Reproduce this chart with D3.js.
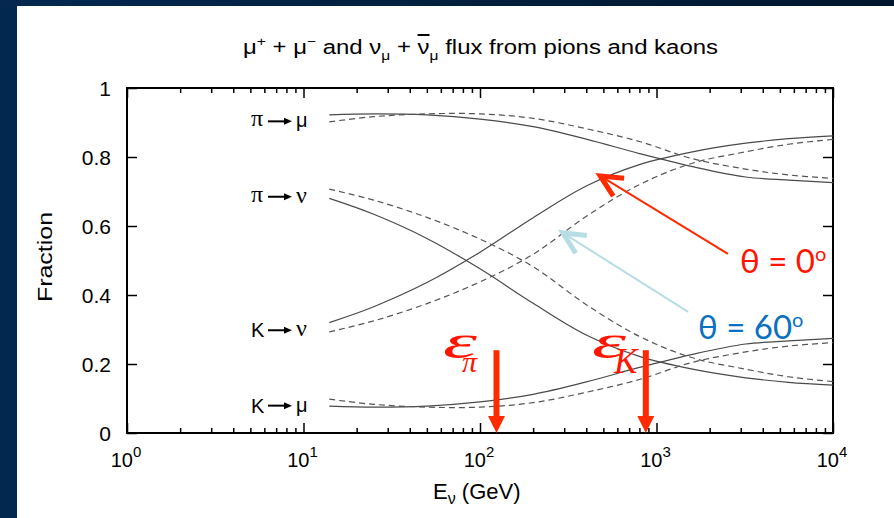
<!DOCTYPE html>
<html>
<head>
<meta charset="utf-8">
<script src="https://cdn.jsdelivr.net/npm/d3@7"></script>
<style>
    body { margin: 0; background: #fff; }
    svg { display: block; }
</style>
</head>
<body>
<div id="chart"></div>
<script>
(() => {
    const energies = [14, 25, 50, 100, 200, 400, 800, 1600, 3200, 5600, 10000];

    // theta = 0 (solid)
    const piMu0 = [0.922, 0.925, 0.922, 0.910, 0.888, 0.852, 0.810, 0.772, 0.742, 0.733, 0.726];
    const kMu0 = [0.078, 0.075, 0.078, 0.090, 0.112, 0.148, 0.190, 0.228, 0.258, 0.267, 0.274];
    const piNu0 = [0.680, 0.634, 0.564, 0.476, 0.376, 0.284, 0.222, 0.185, 0.160, 0.147, 0.139];
    const kNu0 = [0.320, 0.366, 0.436, 0.524, 0.624, 0.716, 0.778, 0.815, 0.840, 0.853, 0.861];

    // theta = 60 (dashed)
    const piMu60 = [0.902, 0.917, 0.925, 0.925, 0.912, 0.882, 0.845, 0.795, 0.765, 0.748, 0.738];
    const kMu60 = [0.098, 0.083, 0.075, 0.075, 0.088, 0.118, 0.155, 0.205, 0.235, 0.252, 0.262];
    const piNu60 = [0.707, 0.675, 0.625, 0.562, 0.482, 0.372, 0.280, 0.218, 0.185, 0.163, 0.149];
    const kNu60 = [0.293, 0.325, 0.375, 0.438, 0.518, 0.628, 0.720, 0.782, 0.815, 0.837, 0.851];

    const xTickValues = [1, 10, 100, 1000, 10000];
    const xTickExps = ['0', '1', '2', '3', '4'];
    const yTickValues = [0, 0.2, 0.4, 0.6, 0.8, 1];
    const yTickLabels = ['0', '0.2', '0.4', '0.6', '0.8', '1'];

    // decay labels drawn at the start of each pair of curves
    const decayParents = ['π', 'π', 'K', 'K'];
    const decayDaughters = ['μ', 'ν', 'ν', 'μ'];
    const decayCurves = [[piMu0, piMu60], [piNu0, piNu60], [kNu0, kNu60], [kMu0, kMu60]];

    // critical energies (GeV)
    const epsNames = ['π', 'K'];
    const epsEnergies = [124, 870];

    const width = 894;
    const height = 518;

    const svg = d3.select('#chart')
        .append('svg')
        .attr('width', width)
        .attr('height', height);

    // slide background
    const grad = svg.append('defs').append('linearGradient')
        .attr('id', 'band').attr('x1', 0).attr('x2', 1);
    grad.append('stop').attr('offset', 0).attr('stop-color', '#04284f');
    grad.append('stop').attr('offset', 1).attr('stop-color', '#00162c');
    svg.append('rect').attr('width', width).attr('height', height).attr('fill', '#03284f');
    svg.append('rect').attr('width', width).attr('height', 6).attr('fill', 'url(#band)');
    svg.append('rect').attr('x', 17).attr('y', 6).attr('width', width - 17).attr('height', height - 6).attr('fill', '#fff');

    const xScale = d3.scaleLog().domain([1, 1e4]).range([127, 833]);
    const yScale = d3.scaleLinear().domain([0, 1]).range([433, 88]);

    const sans = 'Liberation Sans, Arial, sans-serif';
    const serif = 'Liberation Serif, Times New Roman, serif';

    const minorTicks = xScale.ticks().filter(v => !xTickValues.includes(v));

    function styleAxis(g) {
        g.select('.domain').remove();
        g.selectAll('.tick line').attr('stroke', '#000').attr('stroke-width', 1.5);
        g.selectAll('.tick text').remove();
    }

    // inward ticks on all four sides
    svg.append('g').attr('transform', 'translate(0,433)')
        .call(d3.axisBottom(xScale).tickValues(minorTicks).tickSize(-5)).call(styleAxis);
    svg.append('g').attr('transform', 'translate(0,433)')
        .call(d3.axisBottom(xScale).tickValues(xTickValues).tickSize(-10)).call(styleAxis);
    svg.append('g').attr('transform', 'translate(0,88)')
        .call(d3.axisTop(xScale).tickValues(minorTicks).tickSize(-5)).call(styleAxis);
    svg.append('g').attr('transform', 'translate(0,88)')
        .call(d3.axisTop(xScale).tickValues(xTickValues).tickSize(-10)).call(styleAxis);
    svg.append('g').attr('transform', 'translate(127,0)')
        .call(d3.axisLeft(yScale).tickValues(yTickValues).tickSize(-10)).call(styleAxis);
    svg.append('g').attr('transform', 'translate(833,0)')
        .call(d3.axisRight(yScale).tickValues(yTickValues).tickSize(-10)).call(styleAxis);

    svg.append('rect')
        .attr('x', 127).attr('y', 88).attr('width', 706).attr('height', 345)
        .attr('fill', 'none').attr('stroke', '#000').attr('stroke-width', 2);

    // tick labels
    yTickValues.forEach((v, i) => {
        svg.append('text')
            .attr('x', 111).attr('y', yScale(v) + 7.5)
            .attr('text-anchor', 'end')
            .attr('font-family', sans).attr('font-size', 21)
            .text(yTickLabels[i]);
    });
    xTickValues.forEach((v, i) => {
        const t = svg.append('text')
            .attr('x', xScale(v) - 1).attr('y', 467)
            .attr('text-anchor', 'middle')
            .attr('font-family', sans).attr('font-size', 20);
        t.append('tspan').text('10');
        t.append('tspan').attr('dy', -10).attr('font-size', 15).text(xTickExps[i]);
    });

    // axis titles
    const xl = svg.append('text')
        .attr('x', 433).attr('y', 499)
        .attr('font-family', sans).attr('font-size', 22);
    xl.append('tspan').text('E');
    xl.append('tspan').attr('dy', 5).attr('font-size', 16).text('ν');
    xl.append('tspan').attr('dy', -5).text(' (GeV)');

    svg.append('text')
        .attr('transform', 'translate(52,257) rotate(-90)')
        .attr('text-anchor', 'middle')
        .attr('font-family', sans).attr('font-size', 21)
        .attr('textLength', 90).attr('lengthAdjust', 'spacingAndGlyphs')
        .text('Fraction');

    // title
    const title = svg.append('text')
        .attr('x', 243).attr('y', 54)
        .attr('font-family', sans).attr('font-size', 20)
        .attr('textLength', 475).attr('lengthAdjust', 'spacingAndGlyphs');
    title.append('tspan').text('μ');
    title.append('tspan').attr('dy', -8).attr('font-size', 13).text('+');
    title.append('tspan').attr('dy', 8).text(' + μ');
    title.append('tspan').attr('dy', -8).attr('font-size', 13).text('−');
    title.append('tspan').attr('dy', 8).text(' and ν');
    title.append('tspan').attr('dy', 6).attr('font-size', 13).text('μ');
    title.append('tspan').attr('dy', -6).text(' + ');
    title.append('tspan').attr('text-decoration', 'overline').text('ν');
    title.append('tspan').attr('dy', 6).attr('font-size', 13).text('μ');
    title.append('tspan').attr('dy', -6).text(' flux from pions and kaons');

    // curves
    const line = d3.line()
        .x(d => xScale(d[0]))
        .y(d => yScale(d[1]))
        .curve(d3.curveCatmullRom.alpha(0.5));

    const solid = [piMu0, kMu0, piNu0, kNu0];
    const dashed = [piMu60, kMu60, piNu60, kNu60];

    solid.forEach(s => {
        svg.append('path')
            .datum(energies.map((e, i) => [e, s[i]]))
            .attr('d', line)
            .attr('fill', 'none')
            .attr('stroke', '#4a4a4a')
            .attr('stroke-width', 1.2);
    });
    dashed.forEach(s => {
        svg.append('path')
            .datum(energies.map((e, i) => [e, s[i]]))
            .attr('d', line)
            .attr('fill', 'none')
            .attr('stroke', '#555')
            .attr('stroke-width', 1.2)
            .attr('stroke-dasharray', '6,4');
    });

    // decay labels
    decayParents.forEach((p, i) => {
        const cy = (yScale(decayCurves[i][0][0]) + yScale(decayCurves[i][1][0])) / 2 + 3;
        const g = svg.append('g');
        const isPi = p === 'π';
        g.append('text')
            .attr('x', 251).attr('y', cy + (isPi ? 5 : 7))
            .attr('font-family', isPi ? serif : sans)
            .attr('font-size', isPi ? 24 : 20)
            .text(p);
        g.append('line')
            .attr('x1', 268).attr('x2', 285)
            .attr('y1', cy).attr('y2', cy)
            .attr('stroke', '#000').attr('stroke-width', 2);
        g.append('path')
            .attr('d', `M${284},${cy - 3.5}L${292},${cy}L${284},${cy + 3.5}Z`)
            .attr('fill', '#000');
        const d = decayDaughters[i];
        g.append('text')
            .attr('x', 296).attr('y', cy + 6)
            .attr('font-family', d === 'ν' ? serif : sans)
            .attr('font-size', d === 'ν' ? 24 : 20)
            .text(d);
    });

    // critical energy arrows
    const red = '#ff2a00';
    epsEnergies.forEach((e, i) => {
        const ax = xScale(e);
        const top = yScale(0.24);
        const base = yScale(0);
        svg.append('rect')
            .attr('x', ax - 3).attr('y', top)
            .attr('width', 6).attr('height', base - 16 - top)
            .attr('fill', red);
        svg.append('path')
            .attr('d', `M${ax - 8.5},${base - 17}L${ax + 8.5},${base - 17}L${ax},${base}Z`)
            .attr('fill', red);
    });

    // epsilon labels, subscript tucked under the epsilon
    const epsX = [443, 592];
    epsNames.forEach((n, i) => {
        const t = svg.append('text')
            .attr('x', epsX[i]).attr('y', 358)
            .attr('font-family', serif).attr('font-style', 'italic')
            .attr('fill', '#ff1500');
        t.append('tspan')
            .attr('font-size', 48)
            .attr('textLength', 34).attr('lengthAdjust', 'spacingAndGlyphs')
            .text('ε');
        t.append('tspan')
            .attr('dx', n === 'π' ? -15 : -12).attr('dy', n === 'π' ? 14 : 15)
            .attr('font-size', n === 'π' ? 30 : 35)
            .text(n);
    });

    // angle annotations
    function openArrow(x1, y1, x2, y2, color) {
        svg.append('line')
            .attr('x1', x1).attr('y1', y1).attr('x2', x2).attr('y2', y2)
            .attr('stroke', color).attr('stroke-width', 2);
        const a = Math.atan2(y1 - y2, x1 - x2);
        const len = 24;
        const spread = 0.45;
        const p1 = [x2 + len * Math.cos(a - spread), y2 + len * Math.sin(a - spread)];
        const p2 = [x2 + len * Math.cos(a + spread), y2 + len * Math.sin(a + spread)];
        svg.append('path')
            .attr('d', `M${p1[0]},${p1[1]}L${x2},${y2}L${p2[0]},${p2[1]}`)
            .attr('fill', 'none').attr('stroke', color)
            .attr('stroke-width', 5).attr('stroke-linejoin', 'miter');
    }

    openArrow(xScale(2540), yScale(0.519), xScale(480), yScale(0.745), red);
    openArrow(xScale(1510), yScale(0.351), xScale(295), yScale(0.58), '#b7dde4');

    const th0 = svg.append('text')
        .attr('x', 740).attr('y', 273)
        .attr('font-family', 'Lato, Open Sans, sans-serif').attr('font-size', 33)
        .attr('fill', '#ff1500');
    th0.append('tspan').text('θ = 0');
    th0.append('tspan').attr('dy', -12).attr('font-size', 20).text('o');

    const th60 = svg.append('text')
        .attr('x', 698).attr('y', 339)
        .attr('font-family', 'Lato, Open Sans, sans-serif').attr('font-size', 33)
        .attr('fill', '#0a70c0');
    th60.append('tspan').text('θ = 60');
    th60.append('tspan').attr('dy', -12).attr('font-size', 20).text('o');
})();
</script>
</body>
</html>
